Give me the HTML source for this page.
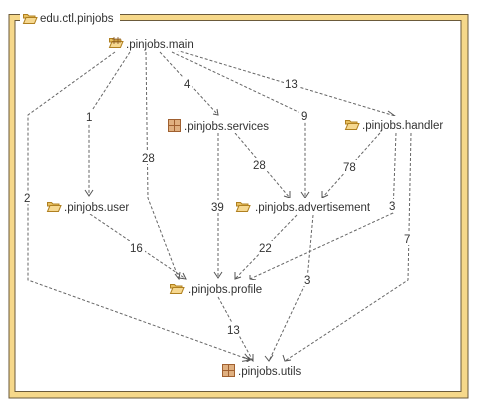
<!DOCTYPE html>
<html><head><style>
body{margin:0;background:#fff;}
svg{display:block;}
text{font-family:"Liberation Sans",sans-serif;font-size:11.5px;fill:#333;}
.e{fill:none;stroke:#666;stroke-width:1;stroke-dasharray:3,2;}
.a{fill:none;stroke:#555;stroke-width:1;}
.lb{fill:#fff;}
</style></head><body>
<svg width="486" height="416" viewBox="0 0 486 416">
<defs>
<g id="fold"><path d="M0.5,2.5 h4 l1.5,1.5 h6 v2 h-11.5z" fill="#e8c060" stroke="#b08020"/><path d="M0.5,11.5 l2.5,-6 h11 l-2.5,6z" fill="#f6d890" stroke="#b08020"/></g>
<g id="pkg"><rect x="0.5" y="0.5" width="12" height="12" fill="#e0b080" stroke="#a06030"/><path d="M6.5,0.5v12M0.5,6.5h12" stroke="#a06030"/></g>
</defs>
<rect x="9" y="14.5" width="459" height="383.5" fill="#f6d88a" stroke="#6b5a3a"/>
<rect x="15" y="20.5" width="446" height="371" fill="#fff" stroke="#6b5a3a"/>
<rect x="20" y="10" width="100" height="16" fill="#fff"/>
<use href="#fold" x="23" y="12"/>
<text x="40" y="22">edu.ctl.pinjobs</text>

<!-- edges -->
<path class="e" d="M115,52 L28,115 L28,280 L250,360"/>
<path class="e" d="M130,52 L89,115 L89,196"/>
<path class="e" d="M146,52 L148,198 L179,279"/>
<path class="e" d="M160,52 L218,115"/>
<path class="e" d="M172,52 L305,115 L305,198"/>
<path class="e" d="M176,50 L395,116"/>
<path class="e" d="M235,133 L290,198"/>
<path class="e" d="M218,133 L218,278"/>
<path class="e" d="M380,133 L322,198"/>
<path class="e" d="M396,133 L393,213 L250,279"/>
<path class="e" d="M411,133 L408,280 L285,361"/>
<path class="e" d="M90,214 L186,279"/>
<path class="e" d="M297,215 L235,279"/>
<path class="e" d="M313,215 L307,280 L269,361"/>
<path class="e" d="M218,297 L253,361"/>
<!-- arrowheads -->
<g class="a">
<path d="M24,353 L28,360 L32,353" transform="rotate(-70 250 360) translate(222 0)"/>
<path d="M85,190 L89,196 L93,190"/>
<path d="M175,274 L179,279 L180,272"/>
<path d="M213,114 L218,115 L217,109"/>
<path d="M301,192 L305,198 L309,192"/>
<path d="M388,111 L395,116 L389,119"/>
<path d="M284,196 L290,198 L290,191"/>
<path d="M214,272 L218,278 L222,272"/>
<path d="M322,191 L322,198 L328,195"/>
<path d="M250,275 L250,279 L256,280"/>
<path d="M283,355 L285,361 L291,360"/>
<path d="M179,278 L186,279 L183,273"/>
<path d="M235,272 L235,279 L241,277"/>
<path d="M265,356 L269,361 L273,355"/>
<path d="M253,354 L253,361 L248,357"/>
<path d="M243,357 L250,360 L245,363"/>
</g>
<!-- edge labels -->
<g>
<rect class="lb" x="22" y="191" width="12" height="13"/><text x="24" y="202">2</text>
<rect class="lb" x="84" y="110" width="10" height="13"/><text x="86" y="121">1</text>
<rect class="lb" x="141" y="151" width="15" height="13"/><text x="142" y="162">28</text>
<rect class="lb" x="182" y="77" width="10" height="13"/><text x="184" y="88">4</text>
<rect class="lb" x="299" y="109" width="12" height="13"/><text x="301" y="120">9</text>
<rect class="lb" x="284" y="77" width="16" height="13"/><text x="285" y="88">13</text>
<rect class="lb" x="252" y="158" width="16" height="13"/><text x="253" y="169">28</text>
<rect class="lb" x="210" y="200" width="16" height="13"/><text x="211" y="211">39</text>
<rect class="lb" x="342" y="160" width="16" height="13"/><text x="343" y="171">78</text>
<rect class="lb" x="387" y="199" width="12" height="13"/><text x="389" y="210">3</text>
<rect class="lb" x="402" y="232" width="12" height="13"/><text x="404" y="243">7</text>
<rect class="lb" x="129" y="241" width="16" height="13"/><text x="130" y="252">16</text>
<rect class="lb" x="258" y="241" width="16" height="13"/><text x="259" y="252">22</text>
<rect class="lb" x="302" y="273" width="12" height="13"/><text x="304" y="284">3</text>
<rect class="lb" x="226" y="323" width="16" height="13"/><text x="227" y="334">13</text>
</g>
<!-- nodes -->
<g>
<rect fill="#fff" x="108" y="35" width="92" height="16"/>
<use href="#fold" x="109" y="36"/><path d="M114,37v7M118,37v7M112,39h9M112,42h9" stroke="#8a5a20" stroke-width="0.8"/>
<text x="126" y="48">.pinjobs.main</text>
<rect fill="#fff" x="166" y="117" width="122" height="16"/>
<use href="#pkg" x="168" y="119"/><text x="184" y="130">.pinjobs.services</text>
<rect fill="#fff" x="343" y="116" width="106" height="16"/>
<use href="#fold" x="345" y="118"/><text x="362" y="129">.pinjobs.handler</text>
<rect fill="#fff" x="45" y="198" width="92" height="16"/>
<use href="#fold" x="47" y="200"/><text x="64" y="211">.pinjobs.user</text>
<rect fill="#fff" x="234" y="198" width="142" height="16"/>
<use href="#fold" x="236" y="200"/><text x="255" y="211">.pinjobs.advertisement</text>
<rect fill="#fff" x="168" y="280" width="104" height="16"/>
<use href="#fold" x="170" y="282"/><text x="188" y="293">.pinjobs.profile</text>
<rect fill="#fff" x="218" y="362" width="90" height="16"/>
<use href="#pkg" x="222" y="364"/><text x="238" y="375">.pinjobs.utils</text>
</g>
</svg>
</body></html>
